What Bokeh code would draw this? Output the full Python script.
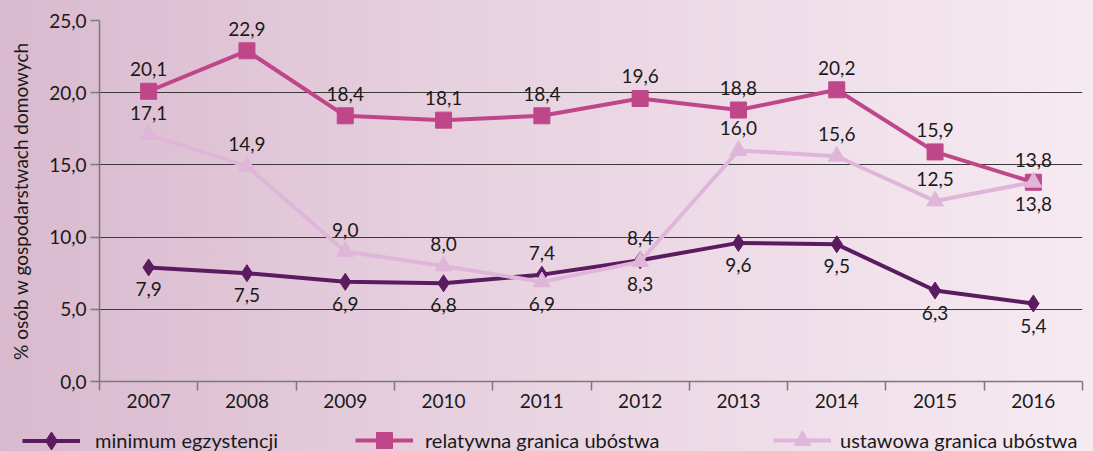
import numpy as np
from bokeh.plotting import figure
from bokeh.layouts import column
from bokeh.models import (Range1d, FixedTicker, Legend, LegendItem,
                          GlobalInlineStyleSheet)
from bokeh.core.properties import value
from bokeh.embed import file_html
from bokeh.resources import INLINE

# ---------------- data ----------------
years = ["2007", "2008", "2009", "2010", "2011", "2012", "2013", "2014", "2015", "2016"]
minimum_egzystencji = [7.9, 7.5, 6.9, 6.8, 7.4, 8.4, 9.6, 9.5, 6.3, 5.4]
relatywna_granica = [20.1, 22.9, 18.4, 18.1, 18.4, 19.6, 18.8, 20.2, 15.9, 13.8]
ustawowa_granica = [17.1, 14.9, 9.0, 8.0, 6.9, 8.3, 16.0, 15.6, 12.5, 13.8]
series_names = ["minimum egzystencji", "relatywna granica ubóstwa", "ustawowa granica ubóstwa"]
y_ticks = [0, 5, 10, 15, 20, 25]
y_tick_labels = ["0,0", "5,0", "10,0", "15,0", "20,0", "25,0"]
y_title = "% osób w gospodarstwach domowych"

# label placement (above / below the point)
min_pos = ["below", "below", "below", "below", "above", "above", "below", "below", "below", "below"]
rel_pos = ["above"] * 10
ust_pos = ["above", "above", "above", "above", "below", "below", "above", "above", "above", "below"]

FONT = "Lato"
FS = "19px"
TXT = "#1a1a1a"
C_MIN = "#5b1b60"
C_REL = "#c0468a"
C_UST = "#dfb6da"

W = 1093
H_MAIN = 415
H_LEG = 36

x = np.arange(len(years)) + 0.5

p = figure(width=W, height=H_MAIN, x_range=Range1d(0, len(years)), y_range=Range1d(0, 25),
           output_backend="svg", toolbar_location=None,
           min_border_left=99, min_border_right=11, min_border_top=20, min_border_bottom=H_MAIN - 381)
p.background_fill_alpha = 0
p.border_fill_alpha = 0
p.outline_line_color = None
p.frame_align = False
p.stylesheets = [GlobalInlineStyleSheet(css=(
    "html,body{margin:0;padding:0;overflow:hidden;}"
    "html{background:linear-gradient(to right,#d9b9ce 0%,#e8d2e0 45%,#f6eaf2 100%);}"
    "body{background:transparent;}"))]

# axes
xa = p.xaxis[0]
xa.ticker = FixedTicker(ticks=list(x), minor_ticks=list(range(len(years) + 1)))
xa.major_label_overrides = {float(xi): y for xi, y in zip(x, years)}
xa.major_tick_out = 0
xa.major_tick_in = 0
xa.minor_tick_out = 9
xa.minor_tick_in = 0
xa.minor_tick_line_color = "#7a7a7a"
xa.minor_tick_line_width = 1.5
xa.axis_line_color = "#7a7a7a"
xa.axis_line_width = 1.5
xa.major_label_standoff = 3
xa.major_label_text_font = FONT
xa.major_label_text_font_size = FS
xa.major_label_text_color = TXT

ya = p.yaxis[0]
ya.ticker = FixedTicker(ticks=y_ticks, minor_ticks=[])
ya.major_label_overrides = {t: l for t, l in zip(y_ticks, y_tick_labels)}
ya.major_tick_out = 9
ya.major_tick_in = 0
ya.major_tick_line_color = "#7a7a7a"
ya.major_tick_line_width = 1.5
ya.axis_line_color = "#7a7a7a"
ya.axis_line_width = 1.5
ya.major_label_standoff = 4
ya.major_label_text_font = FONT
ya.major_label_text_font_size = FS
ya.major_label_text_color = TXT
ya.axis_label = y_title
ya.axis_label_text_font = FONT
ya.axis_label_text_font_size = "19px"
ya.axis_label_text_font_style = "normal"
ya.axis_label_text_color = TXT
ya.axis_label_standoff = 14

p.xgrid.visible = False
p.ygrid.ticker = FixedTicker(ticks=y_ticks)
p.ygrid.grid_line_color = "#3a3a3a"
p.ygrid.grid_line_width = 1

# series
STYLE = [
    (minimum_egzystencji, C_MIN, "diamond", 17),
    (relatywna_granica, C_REL, "square", 16),
    (ustawowa_granica, C_UST, "triangle", 17),
]
for vals, col, mk, sz in STYLE:
    p.line(x, vals, line_color=col, line_width=4)
    p.scatter(x, vals, marker=mk, size=sz, fill_color=col, line_color=col)


def fmt(v):
    return f"{v:.1f}".replace(".", ",")


def add_labels(vals, pos):
    for where, off in (("above", -22), ("below", 22)):
        xs = [xi for xi, ps in zip(x, pos) if ps == where]
        ys = [v for v, ps in zip(vals, pos) if ps == where]
        ts = [fmt(v) for v, ps in zip(vals, pos) if ps == where]
        if xs:
            p.text(xs, ys, text=ts, text_align="center", text_baseline="middle",
                   y_offset=off, text_font=value(FONT), text_font_size=FS, text_color=TXT)


add_labels(minimum_egzystencji, min_pos)
add_labels(relatywna_granica, rel_pos)
add_labels(ustawowa_granica, ust_pos)

# ---------------- legend strip ----------------
# ranges chosen so that the series themselves fall outside this strip
q = figure(width=W, height=H_LEG, x_range=Range1d(100, 101), y_range=Range1d(100, 101),
           output_backend="svg", toolbar_location=None, x_axis_type=None, y_axis_type=None,
           min_border=0, min_border_left=0, min_border_right=0, min_border_top=0, min_border_bottom=0)
q.background_fill_alpha = 0
q.border_fill_alpha = 0
q.outline_line_color = None
q.frame_align = False
q.xgrid.visible = False
q.ygrid.visible = False

leg_center = 440 - H_MAIN
for (vals, col, mk, sz), name, gx, gh, standoff in zip(
        STYLE, series_names, (22, 355, 773), (45, 40, 42), (15, 12, 9)):
    lr = q.line(x, vals, line_color=col, line_width=4)
    sr = q.scatter(x, vals, marker=mk, size=sz, fill_color=col, line_color=col)
    vy = H_LEG - (leg_center + gh / 2)
    leg = Legend(items=[LegendItem(label=name, renderers=[lr, sr])], location=(gx, vy),
                 orientation="horizontal", padding=0, margin=0,
                 glyph_width=58, glyph_height=gh, label_height=gh, label_standoff=standoff,
                 background_fill_alpha=0, border_line_alpha=0,
                 label_text_font=FONT, label_text_font_size="20px", label_text_color=TXT)
    q.add_layout(leg, "center")

open("out.html", "w").write(file_html(column(p, q, spacing=0), INLINE))
